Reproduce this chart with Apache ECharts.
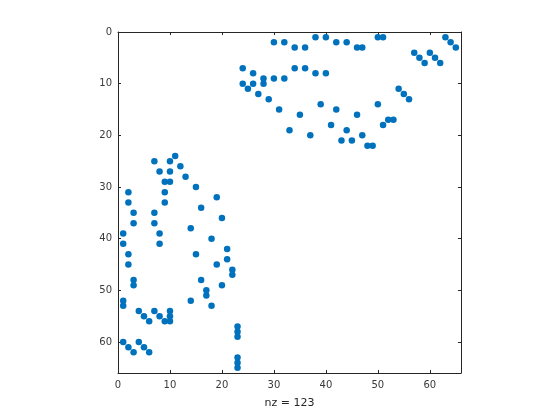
<!DOCTYPE html>
<html>
<head>
<meta charset="utf-8">
<script src="https://cdn.jsdelivr.net/npm/echarts@6/dist/echarts.min.js"></script>
<style>html,body{margin:0;padding:0;background:#fff}#c{width:560px;height:420px}</style>
</head>
<body>
<div id="c"></div>
<script>
// column indices (x) and row indices (y) of the nonzeros
const cols = [38,40,30,32,42,44,34,36,24,34,36,26,38,40,28,30,32,24,26,28,25,27,29,31,39,42,35,41,33,44,37,43,
  46,47,50,51,63,64,65,57,60,58,61,59,62,54,55,56,50,46,52,53,51,47,45,48,49,
  11,7,10,12,8,10,13,9,10,15,2,9,2,9,16,3,7,3,7,14,1,8,1,8,2,15,19,20,18,21,
  2,3,3,16,1,1,14,4,7,5,8,6,9,10,10,10,1,2,3,4,5,6,21,19,22,22,20,17,17,18,23,23,23,23,23,23];
const rows = [1,1,2,2,2,2,3,3,7,7,7,8,8,8,9,9,9,10,10,10,11,12,13,15,14,15,16,18,19,19,20,21,
  3,3,1,1,1,2,3,4,4,5,5,6,6,11,12,13,14,16,17,17,18,20,21,22,22,
  24,25,25,26,27,27,28,29,29,30,31,31,33,33,34,35,35,37,37,38,39,39,41,41,43,43,32,36,40,42,
  45,48,49,48,52,53,52,54,54,55,55,56,56,54,55,56,60,61,62,60,61,62,44,45,46,47,49,50,51,53,57,58,59,63,64,65];
const nzLabel = 'nz = ' + cols.length;
const axisMin = 0, axisMax = 66, tickStep = 10;

const points = cols.map((c, i) => [c, rows[i]]);
const chart = echarts.init(document.getElementById('c'));
const font = 'DejaVu Sans';
const axisColor = '#262626';
function xa(pos, showLabel) {
  return {
    type: 'value', position: pos, min: axisMin, max: axisMax, interval: tickStep,
    axisLine: { show: true, onZero: false, lineStyle: { color: axisColor, width: 1 } },
    axisTick: { show: true, inside: true, length: 3, lineStyle: { color: axisColor } },
    axisLabel: { show: showLabel, color: '#3a3a3a', fontFamily: font, fontSize: 10, margin: 7, showMaxLabel: false },
    splitLine: { show: false }
  };
}
function ya(pos, showLabel) {
  return {
    type: 'value', position: pos, inverse: true, min: axisMin, max: axisMax, interval: tickStep,
    axisLine: { show: true, onZero: false, lineStyle: { color: axisColor, width: 1 } },
    axisTick: { show: true, inside: true, length: 3, lineStyle: { color: axisColor } },
    axisLabel: { show: showLabel, color: '#3a3a3a', fontFamily: font, fontSize: 10, margin: 6, showMaxLabel: false },
    splitLine: { show: false }
  };
}
const xBottom = xa('bottom', true);
xBottom.name = nzLabel;
xBottom.nameLocation = 'middle';
xBottom.nameGap = 25;
xBottom.nameTextStyle = { color: '#262626', fontFamily: font, fontSize: 11 };
chart.setOption({
  animation: false,
  backgroundColor: '#fff',
  grid: { left: 118, top: 32, width: 343, height: 341, containLabel: false },
  xAxis: [xBottom, xa('top', false)],
  yAxis: [ya('left', true), ya('right', false)],
  series: [{
    type: 'scatter', xAxisIndex: 0, yAxisIndex: 0,
    data: points, symbol: 'circle', symbolSize: 6.5,
    itemStyle: { color: '#0072BD', opacity: 1 }
  }]
});
</script>
</body>
</html>
